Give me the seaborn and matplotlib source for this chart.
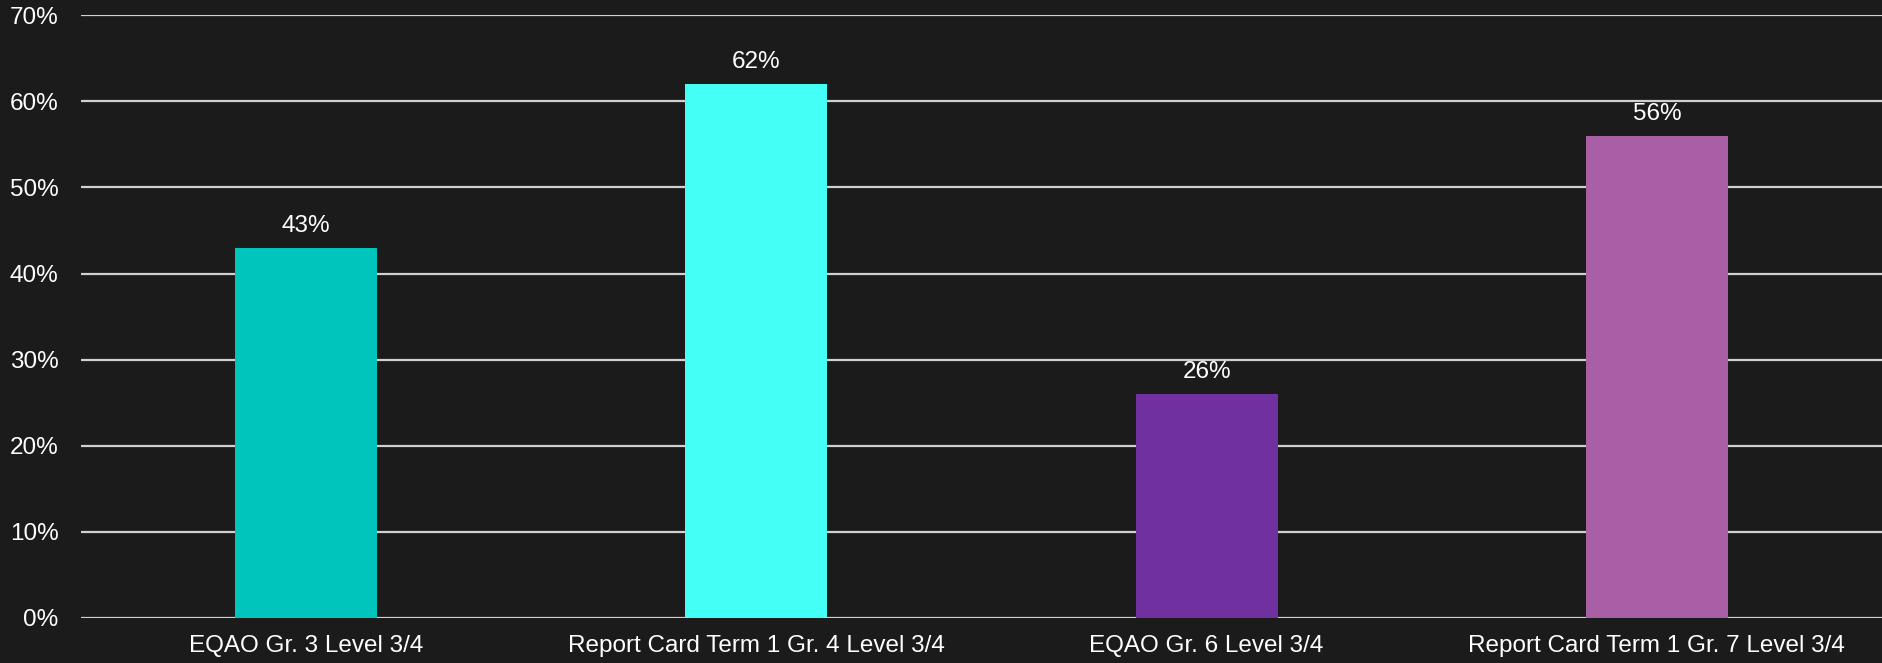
import pandas as pd
import matplotlib.pyplot as plt
import seaborn as sns
from matplotlib.ticker import PercentFormatter

# chart values
categories = ["EQAO Gr. 3 Level 3/4", "Report Card Term 1 Gr. 4 Level 3/4",
              "EQAO Gr. 6 Level 3/4", "Report Card Term 1 Gr. 7 Level 3/4"]
values = [0.43, 0.62, 0.26, 0.56]
colors = ["#00C5BC", "#44FFF5", "#7030A0", "#A85FA5"]

bg = "#1B1B1B"
fg = "#FFFFFF"
grid = "#D0D0D0"

sns.set_theme(style="white")
plt.rcParams["font.family"] = ["Liberation Sans", "DejaVu Sans"]

df = pd.DataFrame({"cat": categories, "val": values})

fig = plt.figure(figsize=(18.82, 6.63), dpi=100, facecolor=bg)
ax = fig.add_axes([0.043, 0.068, 0.957, 0.909])
ax.set_facecolor(bg)

sns.barplot(data=df, x="cat", y="val", hue="cat", palette=colors,
            width=0.315, legend=False, saturation=1, linewidth=0,
            edgecolor="none", ax=ax, zorder=3)

ax.set_ylim(0, 0.7)
ax.set_yticks([i / 10 for i in range(8)])
ax.yaxis.set_major_formatter(PercentFormatter(1.0, decimals=0))
ax.grid(axis="y", color=grid, linewidth=1.6, zorder=0)
ax.set_axisbelow(True)
for s in ax.spines.values():
    s.set_visible(False)

ax.tick_params(axis="y", length=0, pad=16, labelsize=17.5, labelcolor=fg)
ax.tick_params(axis="x", length=0, pad=12, labelsize=17.5, labelcolor=fg)
ax.set_xlabel("")
ax.set_ylabel("")

# value labels above bars
for c in ax.containers:
    ax.bar_label(c, labels=[f"{v*100:.0f}%" for v in c.datavalues],
                 padding=8, color=fg, fontsize=17.5)

fig.savefig("out.png", dpi=100, facecolor=bg)
